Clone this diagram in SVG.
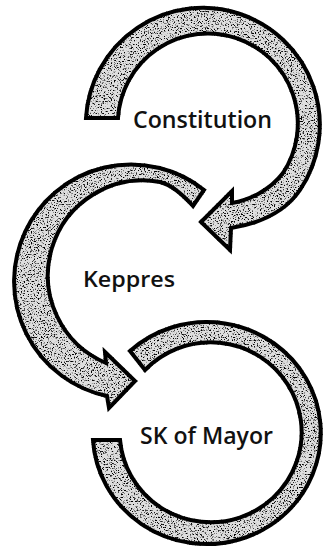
<svg xmlns="http://www.w3.org/2000/svg" width="323" height="554" viewBox="0 0 323 554">
  <style>
    .arrow { fill: #dedede; stroke: #000; stroke-width: 4; stroke-linejoin: miter; filter: url(#grain); }
    .label { font-family: "Open Sans", "Noto Sans", "Liberation Sans", sans-serif; font-size: 24px; font-weight: 600; fill: #111; }
  </style>
  <defs>
    <filter id="grain" x="-5%" y="-5%" width="110%" height="110%" color-interpolation-filters="sRGB">
      <feTurbulence type="fractalNoise" baseFrequency="0.7" numOctaves="3" seed="7" result="noise"/>
      <feColorMatrix in="noise" type="matrix" values="0 0 0 0 0  0 0 0 0 0  0 0 0 0 0  -6 0 0 0 2.75" result="spots"/>
      <feComposite in="spots" in2="SourceGraphic" operator="in" result="spots2"/>
      <feMerge>
        <feMergeNode in="SourceGraphic"/>
        <feMergeNode in="spots2"/>
      </feMerge>
    </filter>
  </defs>
  <rect width="323" height="554" fill="#fff"/>
  <g id="connectors">
    <path id="arrow-constitution" class="arrow" d="M 86,118 A 117 117 0 1 1 300,190 C 285,212 262,223 231,228 L 230,250 L 201,222 L 232,191 L 232,203 C 250,200 270,190 283,173 A 90 90 0 1 0 118,118 Z"/>
    <path id="arrow-keppres" class="arrow" d="M 204,190 A 117 117 0 1 0 107,396 L 109,408 L 135,381 L 105,352 L 106,363 A 95 95 0 0 1 160,182 C 172,185 184,196 193,206 Z"/>
    <path id="arrow-skmayor" class="arrow" d="M 130,351 A 114 111 0 1 1 93,440 L 120,440 A 91 90 0 1 0 145,370 Z"/>
  </g>
  <g id="node-constitution">
    <text class="label" x="133" y="128" textLength="139" lengthAdjust="spacingAndGlyphs">Constitution</text>
  </g>
  <g id="node-keppres">
    <text class="label" x="83" y="287" style="font-size:22px" textLength="92" lengthAdjust="spacingAndGlyphs">Keppres</text>
  </g>
  <g id="node-skmayor">
    <text class="label" x="140" y="444" textLength="133" lengthAdjust="spacingAndGlyphs">SK of Mayor</text>
  </g>
</svg>
